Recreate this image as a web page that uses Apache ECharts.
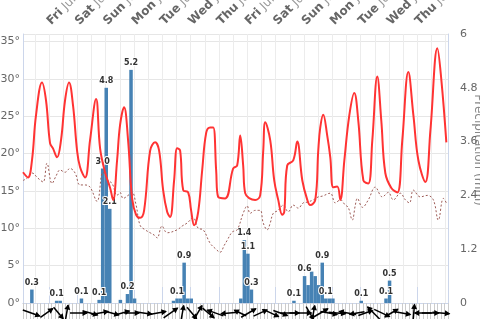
<!DOCTYPE html>
<html>
<head>
<meta charset="utf-8">
<script src="https://cdn.jsdelivr.net/npm/echarts@6/dist/echarts.min.js"></script>
<style>
  html, body { margin: 0; padding: 0; background: #fff; }
  #chart { width: 480px; height: 319px; }
</style>
</head>
<body>
<div id="chart"></div>
<script>
// hours counted from the left edge of the plot (Thu Jul 1, 02:00)
const dayLabels = ['Fri Jul 2', 'Sat Jul 3', 'Sun Jul 4', 'Mon Jul 5', 'Tue Jul 6', 'Wed Jul 7', 'Thu Jul 8',
  'Fri Jul 9', 'Sat Jul 10', 'Sun Jul 11', 'Mon Jul 12', 'Tue Jul 13', 'Wed Jul 14', 'Thu Jul 15'];
const firstDayHour = 22;

// temperature (°C)
const tempHours = [0, 4.2, 7.6, 11, 16.1, 19.5, 22.9, 25.4, 28.8, 32.2, 35.6, 39, 42.4, 45.8, 48.3, 52.6, 56.8, 61.9,
  65.3, 69.5, 73.8, 76.3, 79.7, 82.2, 85.6, 89, 92.4, 95.8, 99.2, 102.6, 107.7, 111.9, 115.3, 118.7, 122.1, 124.6,
  128, 130.6, 133.1, 135.7, 139.9, 142.4, 145, 148.4, 151.8, 155.2, 158.5, 161.1, 163.6, 165.3, 171.3, 178, 181.4,
  184, 186.5, 188.2, 196.7, 200.9, 203.5, 205.2, 209.4, 212.8, 216.2, 219.6, 221.3, 223.8, 228.9, 232.3, 236.6,
  240.8, 243.3, 247.6, 250.1, 251.8, 254.3, 257.7, 260.3, 262.8, 266.2, 268.8, 272.2, 276.4, 280.6, 284, 288.3,
  292.5, 295.9, 300.1, 303.5, 306.9, 312, 317.1, 321.3, 326.4, 330.7, 334.9, 340.8, 345.1, 351, 354.4, 358.6];
const tempValues = [17.5, 16.8, 19.1, 25.1, 29.5, 27.1, 21.4, 20.7, 19.5, 21.8, 27.1, 29.5, 26.4, 20.4, 18.2, 16.8, 21.8, 27.3,
  20.7, 17.5, 15.4, 13.8, 19.1, 23.8, 26.2, 21.8, 14.0, 11.8, 11.4, 12.4, 20.4, 21.5, 20.4, 15.1, 12.2, 11.5,
  16.4, 20.7, 20.4, 15.1, 14.8, 12.4, 10.4, 12.2, 17.8, 22.8, 23.5, 23.5, 17.8, 14.2, 14.0, 18.0, 18.4,
  22.4, 18.4, 14.7, 13.8, 14.4, 20.4, 24.2, 21.8, 16.4, 13.8, 11.8, 12.2, 18.4, 19.1, 21.6, 16.4,
  13.8, 13.1, 13.8, 20.4, 23.5, 25.2, 22.4, 19.5, 15.5, 15.6, 13.8, 19.1, 25.1, 28.1, 24.4, 16.4,
  16.0, 21.8, 30.3, 24.4, 17.4, 15.4, 14.8, 21.8, 30.9, 25.1, 19.1, 16.2, 23.1, 34.1, 29.8, 21.5];

// dew point (°C), dotted line
const dewHours = [0, 3.4, 7.6, 12.7, 17, 20.3, 24.6, 28, 31.4, 35.6, 39.8, 44.1, 48.3, 52.6, 56.8, 62.7, 67.8, 72.1,
  75.5, 79.7, 82.2, 84.8, 89, 92.4, 95.8, 99.2, 103.4, 107.7, 111.9, 113.6, 117.8, 122.1, 130.6, 134.8, 139, 144.1,
  148.4, 152.6, 158.5, 162.8, 167, 170.4, 173, 177.2, 181.4, 186.5, 189.9, 192.4, 196.7, 200.9, 203.5, 206.9,
  209.4, 212, 216.2, 220.4, 224.7, 228.9, 233.2, 237.4, 240.8, 245.9, 250.1, 253.5, 260.3, 264.5, 268.8, 273,
  275.5, 278.9, 281.5, 283.2, 287.5, 292.5, 298.4, 304.4, 309.5, 313.7, 319.6, 323.9, 327.3, 330.7, 336.6,
  342.5, 347.6, 351.8, 356.1, 358.6];
const dewValues = [16.4, 16.7, 17.4, 16.7, 16.2, 18.7, 16.0, 17.0, 17.8, 17.5, 18.0, 17.4, 15.8, 15.8, 15.5, 13.6, 17.5, 16.4,
  16.0, 14.4, 14.8, 14.0, 14.4, 14.8, 13.1, 10.4, 9.8, 9.4, 9.0, 8.7, 10.3, 9.4, 9.8, 10.3, 10.7, 11.4,
  10.0, 9.8, 8.0, 7.3, 6.8, 7.7, 8.4, 9.5, 9.8, 12.0, 13.0, 12.0, 12.4, 12.4, 10.7, 9.8,
  10.7, 12.0, 12.4, 13.1, 12.2, 13.1, 12.7, 13.4, 13.5, 13.8, 14.2, 14.3, 14.7, 13.4, 13.8, 13.1,
  12.8, 11.1, 13.1, 14.0, 12.8, 13.8, 15.5, 14.2, 14.8, 13.8, 14.7, 13.8, 13.4, 15.1, 14.2,
  14.4, 13.8, 11.1, 14.0, 13.4];

// precipitation (mm), 3-hour bars centred on these hours
const rainHours = [7.5, 28.5, 31.5, 49.5, 64.5, 67.5, 70.5, 73.5, 82.5, 88.5, 91.5, 94.5,
  127.5, 130.5, 133.5, 136.5, 139.5, 142.5, 184.5, 187.5, 190.5, 193.5,
  229.5, 238.5, 241.5, 244.5, 247.5, 250.5, 253.5, 256.5, 259.5, 262.5, 286.5, 307.5, 310.5];
const rainValues = [0.3, 0.05, 0.05, 0.1, 0.07, 3.0, 4.8, 2.1, 0.07, 0.2, 5.2, 0.1,
  0.05, 0.1, 0.1, 0.9, 0.1, 0.1, 0.1, 1.4, 1.1, 0.3,
  0.05, 0.6, 0.4, 0.7, 0.6, 0.4, 0.9, 0.1, 0.1, 0.1, 0.05, 0.1, 0.5];

// wind arrows
const windHours = [7, 20, 30, 37, 47, 57, 65, 75, 84, 92, 102, 114, 125, 135, 143, 148, 157, 163, 175, 184, 191,
  201, 210, 218, 226, 235, 243, 246, 252, 259, 266, 275, 283, 290, 297, 304, 312, 321, 331, 339, 345, 354];
const windDir = [-20, 35, -50, 80, 0, -15, 10, -15, 15, 0, -8, 10, 35, 80, -50, 60, -40, 160, -175, 155, 30,
  25, -25, -20, 0, 0, -60, 80, 30, -10, -5, 170, -170, 20, 135, -25, 30, -10, 85, 180, 0, -5];
const windLen = [18, 15, 15, 16, 17, 15, 17, 15, 15, 15, 17, 17, 17, 15, 15, 17, 15, 17, 17, 13, 17,
  15, 17, 15, 19, 22, 15, 15, 17, 17, 17, 17, 15, 15, 17, 17, 15, 17, 17, 17, 17, 17];

const hourCats = [];
for (let i = 0; i <= 360; i++) {
  const d = (i - firstDayHour) / 24;
  hourCats.push(d >= 0 && d < dayLabels.length && Number.isInteger(d) ? dayLabels[d] : '');
}
const isDay = (i) => hourCats[i] !== '';
const isHalfDay = (i) => (i - firstDayHour) % 12 === 0;

const chart = echarts.init(document.getElementById('chart'));
chart.setOption({
  animation: false,
  textStyle: { fontFamily: 'DejaVu Sans, sans-serif' },
  grid: { left: 23, right: 32, top: 34, bottom: 16, containLabel: false, outerBoundsMode: 'none' },
  // right axis title, partly outside the frame as in the reference
  graphic: [{
    type: 'text', x: 478, y: 150, rotation: -Math.PI / 2,
    style: { text: 'Precipitation (mm)', fill: '#888', fontSize: 12, fontFamily: 'DejaVu Sans, sans-serif',
      align: 'center', verticalAlign: 'middle' }
  }],
  xAxis: [
    {
      type: 'value', position: 'bottom', min: 0, max: 360, interval: 3,
      axisLine: { lineStyle: { color: '#ccd6eb' } },
      axisTick: { length: 18, lineStyle: { color: '#ccc' } },
      axisLabel: { show: false },
      splitLine: { show: false }
    },
    {
      type: 'category', position: 'top', boundaryGap: false, data: hourCats,
      axisLine: { lineStyle: { color: '#ccd6eb' } },
      axisTick: { interval: (i) => isDay(i), length: 16, lineStyle: { color: '#ccd6eb' } },
      axisLabel: {
        interval: (i) => isDay(i), rotate: 45, margin: 11, align: 'left', verticalAlign: 'middle',
        fontSize: 12, color: '#999', hideOverlap: false,
        formatter: (v) => {
          const sp = v.indexOf(' ');
          return '{b|' + v.slice(0, sp) + '}' + v.slice(sp);
        },
        rich: { b: { fontWeight: 'bold', color: '#666', fontSize: 12 } }
      },
      splitLine: { show: true, interval: (i) => isHalfDay(i), lineStyle: { color: '#ececec' } }
    }
  ],
  yAxis: [
    {
      type: 'value', min: 0, max: 36, interval: 5,
      axisLine: { show: true, lineStyle: { color: '#ccd6eb' } },
      axisTick: { show: false },
      axisLabel: { margin: 3, fontSize: 11, color: '#666', formatter: (v) => (v % 5 === 0 ? v + '°' : '') },
      splitLine: { lineStyle: { color: '#e6e6e6' } }
    },
    {
      type: 'value', min: 0, max: 6, interval: 1.2, position: 'right',
      axisLine: { show: true, lineStyle: { color: '#ccd6eb' } },
      axisTick: { show: false },
      axisLabel: { margin: 12, fontSize: 11, color: '#666', align: 'left' },
      splitLine: { show: false }
    }
  ],
  series: [
    {
      name: 'Precipitation', type: 'bar', xAxisIndex: 0, yAxisIndex: 1, barWidth: 3.5, z: 1,
      itemStyle: { color: '#4682b4' },
      data: rainHours.map((h, i) => [h, rainValues[i]]),
      label: {
        show: true, position: 'top', distance: 3, fontSize: 8, fontWeight: 'bold', color: '#333',
        textBorderColor: '#fff', textBorderWidth: 2,
        formatter: (p) => p.value[1].toFixed(1)
      },
      labelLayout: { hideOverlap: true }
    },
    {
      name: 'Dew point', type: 'line', xAxisIndex: 0, yAxisIndex: 0, smooth: 0.4, symbol: 'none', z: 2,
      lineStyle: { color: '#9c5a55', width: 1, type: [2, 2] },
      data: dewHours.map((h, i) => [h, dewValues[i]])
    },
    {
      name: 'Temperature', type: 'line', xAxisIndex: 0, yAxisIndex: 0, smooth: 0.4, symbol: 'none', z: 3,
      lineStyle: { color: '#ff3333', width: 2 },
      data: tempHours.map((h, i) => [h, tempValues[i]])
    },
    {
      name: 'Wind', type: 'custom', xAxisIndex: 0, yAxisIndex: 1, clip: false, silent: true, z: 4,
      data: windHours.map((h, i) => [h, windDir[i], windLen[i]]),
      encode: { x: 0 },
      renderItem: (params, api) => {
        const c = api.coord([api.value(0), 0]);
        const L = api.value(2);
        return {
          type: 'group', x: c[0], y: c[1] + 10, rotation: api.value(1) * Math.PI / 180,
          children: [
            { type: 'line', shape: { x1: -L / 2, y1: 0, x2: L / 2, y2: 0 }, style: { stroke: '#000', lineWidth: 1.5 } },
            { type: 'polygon', shape: { points: [[L / 2 + 1, 0], [L / 2 - 4.5, -3], [L / 2 - 4.5, 3]] }, style: { fill: '#000' } }
          ]
        };
      }
    }
  ]
});
</script>
</body>
</html>
